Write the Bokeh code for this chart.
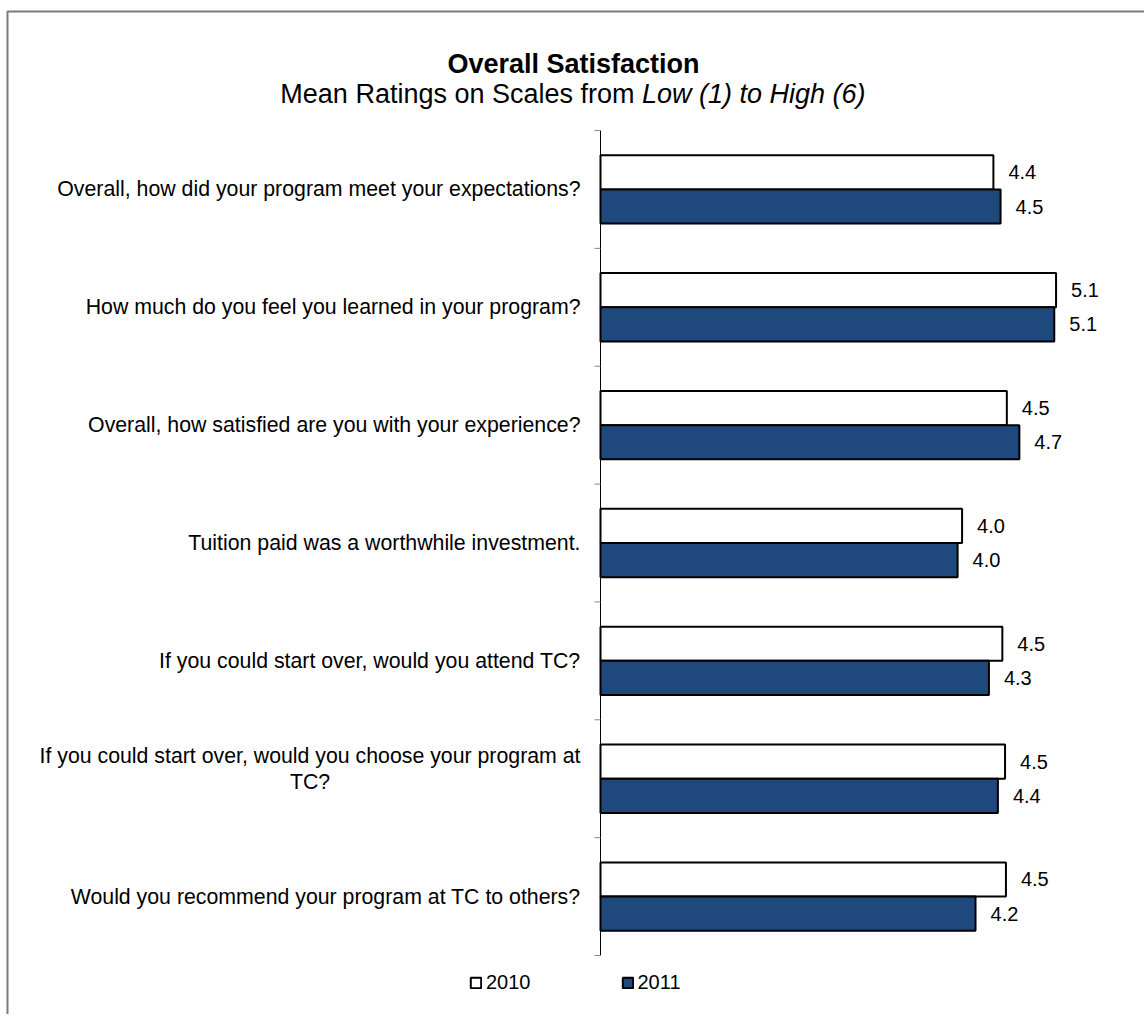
from bokeh.plotting import figure
from bokeh.models import (Range1d, Label, Legend, LegendItem, ColumnDataSource, BoxAnnotation)
from bokeh.core.properties import value
from bokeh.embed import file_html
from bokeh.resources import INLINE

categories = [
    "Overall, how did your program meet your expectations?",
    "How much do you feel you learned in your program?",
    "Overall, how satisfied are you with your experience?",
    "Tuition paid was a worthwhile investment.",
    "If you could start over, would you attend TC?",
    "If you could start over, would you choose your program at TC?",
    "Would you recommend your program at TC to others?",
]
v2010 = [4.39, 5.09, 4.54, 4.04, 4.49, 4.52, 4.53]
v2011 = [4.47, 5.07, 4.68, 3.99, 4.34, 4.44, 4.19]
series_names = ["2010", "2011"]
title_text = "Overall Satisfaction"
subtitle_regular = "Mean Ratings on Scales from"
subtitle_italic = "Low (1) to High (6)"

FONT = "Liberation Sans"
BLUE = "#1F497D"

# canvas / layout in pixels
W, H = 1144, 1014
AX_X = 600          # pixel column of value 0
PX_X = 89.5         # pixels per rating unit
TOP, BOT = 130, 955 # pixel rows of the category band
n = len(categories)
PX_Y = (BOT - TOP) / n

def xd(px):  # pixel column -> data x
    return (px - AX_X) / PX_X

def yd(py):  # pixel row -> data y
    return (BOT - py) / PX_Y

p = figure(width=W, height=H, output_backend="svg", toolbar_location=None,
           x_range=Range1d(xd(0), xd(W)), y_range=Range1d(yd(H), yd(0)),
           x_axis_location=None, y_axis_location=None,
           min_border=0, min_border_left=0, min_border_right=0,
           min_border_top=0, min_border_bottom=0)
p.grid.visible = False
p.outline_line_color = None
p.background_fill_color = "white"
p.border_fill_color = "white"

# category centres (first category at the top)
ycen = [n - i - 0.5 for i in range(n)]
bh = 0.29
WRAPPED = {categories[5]: "If you could start over, would you choose your program at\nTC?"}
display_labels = [WRAPPED.get(c, c) for c in categories]
LABEL_GAP = 20
WRAP_W = 541  # width of the first wrapped line, so the block can be centred
lab_align = ["center" if c in WRAPPED else "right" for c in categories]
lab_xoff = [-(LABEL_GAP + WRAP_W / 2) if c in WRAPPED else -LABEL_GAP for c in categories]
lab_yoff = [-10 if c in WRAPPED else 0 for c in categories]

src = ColumnDataSource(dict(
    cat=display_labels,
    yc=ycen,
    y10=[y + bh / 2 for y in ycen],
    y11=[y - bh / 2 for y in ycen],
    v2010=v2010,
    v2011=v2011,
    l2010=[f"{v:.1f}" for v in v2010],
    l2011=[f"{v:.1f}" for v in v2011],
    lalign=lab_align,
    lxoff=lab_xoff,
    lyoff=lab_yoff,
))

# value axis line and category boundary ticks
bounds = list(range(n + 1))
p.segment(x0=[0], y0=[0], x1=[0], y1=[n], line_color="black", line_width=1)
p.segment(x0=[xd(AX_X - 6)] * len(bounds), y0=bounds, x1=[0] * len(bounds), y1=bounds,
          line_color="#888888", line_width=1)

r1 = p.hbar(y="y10", left=0, right="v2010", height=bh, source=src,
            fill_color="white", line_color="black", line_width=2)
r2 = p.hbar(y="y11", left=0, right="v2011", height=bh, source=src,
            fill_color=BLUE, line_color="black", line_width=2)

# value labels
for col, yc, lab in (("v2010", "y10", "l2010"), ("v2011", "y11", "l2011")):
    p.text(x=col, y=yc, text=lab, source=src, x_offset=15,
           text_baseline="middle", text_align="left",
           text_font=value(FONT), text_font_size="20px", text_color="black")

# category labels
p.text(x=0, y="yc", text="cat", source=src, x_offset="lxoff", y_offset="lyoff",
       text_baseline="middle", text_align="lalign", text_line_height=1.1,
       text_font=value(FONT), text_font_size="21.3px", text_color="black")

# titles
p.add_layout(Label(x=xd(573), y=yd(63), text=title_text,
                   text_align="center", text_baseline="middle", text_font=FONT,
                   text_font_size="27px", text_font_style="bold", text_color="black"))
p.add_layout(Label(x=xd(634), y=yd(93), text=subtitle_regular,
                   text_align="right", text_baseline="middle", text_font=FONT,
                   text_font_size="27px", text_color="black"))
p.add_layout(Label(x=xd(641.5), y=yd(93), text=subtitle_italic,
                   text_align="left", text_baseline="middle", text_font=FONT,
                   text_font_size="27px", text_font_style="italic", text_color="black"))

# outer chart border (only left and top edges are visible in the window)
p.add_layout(BoxAnnotation(left=xd(7), right=xd(W + 20), top=yd(11), bottom=yd(H + 20),
                           fill_alpha=0, line_color="#7a7a7a", line_alpha=1.0, line_width=2))

legend = Legend(items=[LegendItem(label=series_names[0], renderers=[r1]),
                       LegendItem(label=series_names[1], renderers=[r2])],
                orientation="horizontal", location=(469, 20),
                glyph_width=13, glyph_height=13, label_standoff=4, spacing=90,
                padding=0, margin=0, border_line_color=None, background_fill_alpha=0,
                label_text_font=FONT, label_text_font_size="20px", label_text_color="black")
p.add_layout(legend)

open("out.html", "w").write(file_html(p, INLINE))
